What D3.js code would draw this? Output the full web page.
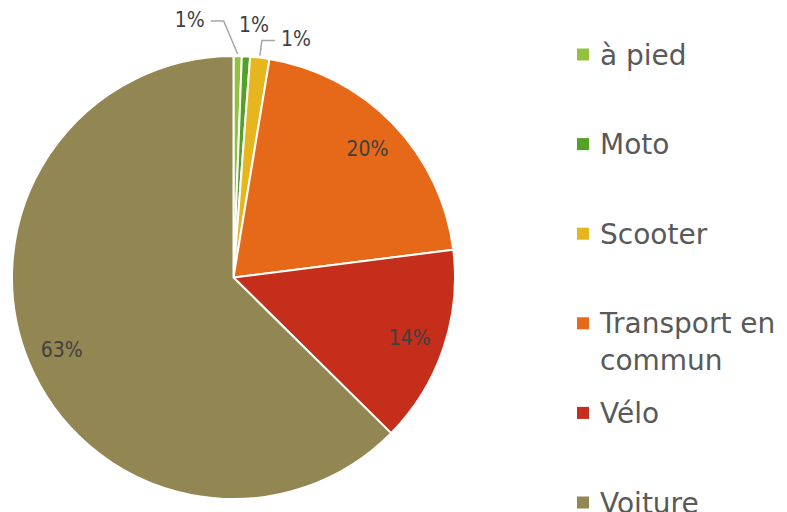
<!DOCTYPE html>
<html>
<head>
<meta charset="utf-8">
<script src="https://cdn.jsdelivr.net/npm/d3@7"></script>
<style>
  body { margin: 0; background: #fff; }
  svg { display: block; }
</style>
</head>
<body>
<div id="chart"></div>
<script>
const width = 787;
const height = 512;

// data (share of trips, %)
const modes = ["à pied", "Moto", "Scooter", "Transport en commun", "Vélo", "Voiture"];
const shares = [0.6, 0.6, 1.4, 20.4, 14.4, 62.6];
const colors = ["#92c13e", "#55a127", "#e7b61f", "#e66919", "#c42e1b", "#928752"];
// legend lines (wrapped like the original)
const legendLines = [["à pied"], ["Moto"], ["Scooter"], ["Transport en", "commun"], ["Vélo"], ["Voiture"]];

// callout placement for the thin slices: text anchor offset from the slice's outer edge
const callouts = [
  { i: 0, dx: -33, dy: -44, anchor: "end" },
  { i: 1, dx: 8, dy: -39, anchor: "middle", noLine: true },
  { i: 2, dx: 21, dy: -26, anchor: "start" }
];

const cx = 233.5, cy = 277.5, radius = 221.5;

const svg = d3.select("#chart")
  .append("svg")
  .attr("width", width)
  .attr("height", height);

const pie = d3.pie().sort(null).value(d => d);
const arcs = pie(shares);
const total = d3.sum(shares);

const arc = d3.arc().innerRadius(0).outerRadius(radius);
const labelArc = d3.arc().innerRadius(radius * 0.84).outerRadius(radius * 0.84);

const g = svg.append("g").attr("transform", `translate(${cx},${cy})`);

g.selectAll("path")
  .data(arcs)
  .enter()
  .append("path")
  .attr("d", arc)
  .attr("fill", (d, i) => colors[i])
  .attr("stroke", "#fff")
  .attr("stroke-width", 2)
  .attr("stroke-linejoin", "round");

const pct = v => Math.round(v / total * 100) + "%";

// inside labels for the big slices
g.selectAll("text.inner")
  .data(arcs.filter(d => d.value > 5))
  .enter()
  .append("text")
  .attr("class", "inner")
  .attr("transform", d => `translate(${labelArc.centroid(d)})`)
  .attr("text-anchor", "middle")
  .attr("dy", "0.35em")
  .attr("font-family", "'DejaVu Sans Condensed', 'DejaVu Sans', sans-serif")
  .attr("font-size", "21px")
  .attr("fill", "#404040")
  .text(d => pct(d.value));

// callouts for the thin slices
callouts.forEach(c => {
  const d = arcs[c.i];
  const a = (d.startAngle + d.endAngle) / 2;
  const ex = Math.sin(a) * radius, ey = -Math.cos(a) * radius;
  const tx = ex + c.dx, ty = ey + c.dy;
  if (!c.noLine) {
    const side = c.anchor === "end" ? 1 : -1;
    const hx = tx + side * 6, hy = ty + 9;
    const kx = hx + side * 13;
    g.append("polyline")
      .attr("points", [[hx, hy], [kx, hy], [ex, ey - 2]].map(p => p.join(",")).join(" "))
      .attr("fill", "none")
      .attr("stroke", "#a6a6a6")
      .attr("stroke-width", 1.5);
  }
  g.append("text")
    .attr("x", tx)
    .attr("y", ty)
    .attr("dy", "0.7em")
    .attr("text-anchor", c.anchor)
    .attr("font-family", "'DejaVu Sans Condensed', 'DejaVu Sans', sans-serif")
    .attr("font-size", "21px")
    .attr("fill", "#404040")
    .text(pct(d.value));
});

// legend
const legendY = d3.scalePoint().domain(modes).range([54.5, 502.5]);

const legend = svg.selectAll("g.legend")
  .data(modes)
  .enter()
  .append("g")
  .attr("class", "legend")
  .attr("transform", d => `translate(577,${legendY(d)})`);

legend.append("rect")
  .attr("x", 0)
  .attr("y", -6)
  .attr("width", 12)
  .attr("height", 12)
  .attr("fill", (d, i) => colors[i]);

legend.each(function(d, i) {
  const t = d3.select(this).append("text")
    .attr("font-family", "'DejaVu Sans', sans-serif")
    .attr("font-size", "28px")
    .attr("fill", "#595959");
  legendLines[i].forEach((line, j) => {
    t.append("tspan")
      .attr("x", 23)
      .attr("y", 10 + j * 37)
      .text(line);
  });
});
</script>
</body>
</html>
